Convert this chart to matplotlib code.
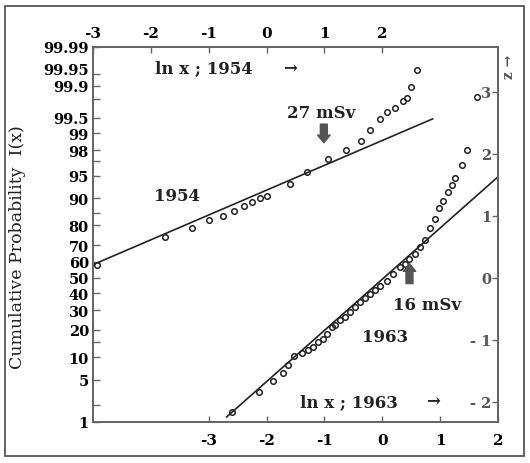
import matplotlib.pyplot as plt
from matplotlib.patches import Rectangle
from statistics import NormalDist

ppf = NormalDist().inv_cdf

# probability scale (left) and z scale (right)
prob_ticks = [1, 5, 10, 20, 30, 40, 50, 60, 70, 80, 90, 95, 98, 99, 99.5, 99.9, 99.95, 99.99]
prob_labels = ['1', '5', '10', '20', '30', '40', '50', '60', '70', '80', '90', '95',
               '98', '99', '99.5', '99.9', '99.95', '99.99']
prob_minor = [2, 15, 85, 97, 99.8]
z_ticks = [-2, -1, 0, 1, 2, 3]
z_labels = ['- 2', '- 1', '0', '1', '2', '3']
top_ticks = [-3, -2, -1, 0, 1, 2]
bottom_ticks = [-3, -2, -1, 0, 1, 2]

# 1954 data (top axis, ln x)
lnx_1954 = [-2.93, -1.76, -1.29, -1.00, -0.75, -0.56, -0.39, -0.25, -0.12, 0.0,
            0.40, 0.70, 1.06, 1.37, 1.63, 1.78, 1.96, 2.09, 2.22, 2.35, 2.42, 2.49, 2.60]
z_1954 = [0.21, 0.66, 0.80, 0.93, 1.00, 1.08, 1.16, 1.22, 1.29, 1.32,
          1.51, 1.71, 1.92, 2.06, 2.21, 2.38, 2.56, 2.67, 2.74, 2.85, 2.90, 3.08, 3.34]
fit_1954_x = [-3.0, 2.87]
fit_1954_z = [0.21, 2.56]

# 1963 data (bottom axis, ln x)
lnx_1963 = [-2.60, -2.13, -1.89, -1.72, -1.63, -1.53, -1.39, -1.29, -1.20, -1.11,
            -1.03, -0.96, -0.87, -0.82, -0.73, -0.65, -0.56, -0.47, -0.39, -0.30,
            -0.22, -0.13, -0.04, 0.08, 0.18, 0.30, 0.39, 0.47, 0.56, 0.65,
            0.73, 0.82, 0.91, 0.98, 1.05, 1.13, 1.20, 1.25, 1.37, 1.46, 1.63]
z_1963 = [-2.16, -1.84, -1.67, -1.53, -1.40, -1.27, -1.21, -1.16, -1.11, -1.04,
          -0.99, -0.91, -0.79, -0.76, -0.69, -0.63, -0.55, -0.47, -0.39, -0.33,
          -0.26, -0.20, -0.13, -0.05, 0.06, 0.17, 0.22, 0.30, 0.38, 0.49,
          0.61, 0.80, 0.95, 1.12, 1.24, 1.38, 1.49, 1.61, 1.82, 2.06, 2.92]
fit_1963_x = [-2.69, 2.0]
fit_1963_z = [-2.245, 1.626]

serif = 'DejaVu Serif'
ink = '#222222'
frame = '#666666'

fig = plt.figure(figsize=(5.3, 4.64), dpi=100)
ax = fig.add_axes([0.1755, 0.0884, 0.7641, 0.8082])
ax.set_xlim(-5, 2)
ax.set_ylim(ppf(0.01), ppf(0.9999))

ax2 = ax.twiny()
ax2.set_xlim(-3, 4)

# 1954 on the top scale
ax2.plot(fit_1954_x, fit_1954_z, color=ink, lw=1.2)
ax2.plot(lnx_1954, z_1954, 'o', mfc='none', mec=ink, ms=4, mew=1.1)

# 1963 on the bottom scale
ax.plot(fit_1963_x, fit_1963_z, color=ink, lw=1.2)
ax.plot(lnx_1963, z_1963, 'o', mfc='none', mec=ink, ms=4, mew=1.1)

# left probability ticks
ax.set_yticks([ppf(p / 100) for p in prob_ticks])
ax.set_yticklabels(prob_labels)
ax.set_yticks([ppf(p / 100) for p in prob_minor], minor=True)
ax.tick_params(axis='y', which='both', direction='in', length=5, width=1,
               color=frame, pad=3, labelsize=10.5, left=True, right=False)
ax.set_xticks(bottom_ticks)
ax.set_xticklabels([str(t) for t in bottom_ticks])
ax.tick_params(axis='x', direction='in', length=4, width=1, color=frame,
               pad=8, labelsize=11)
ax2.set_xticks(top_ticks)
ax2.set_xticklabels([str(t) for t in top_ticks])
ax2.tick_params(axis='x', direction='in', length=4, width=1, color=frame,
                pad=5, labelsize=11)

for lab in ax.get_yticklabels() + ax.get_xticklabels() + ax2.get_xticklabels():
    lab.set_fontfamily(serif)
    lab.set_fontweight('bold')
# the crowded 99.95 label sits a little higher, as in the original
for lab in ax.get_yticklabels():
    if lab.get_text() == '99.95':
        lab.set_va('baseline')

# right z axis, labels inside
sec = ax.secondary_yaxis('right')
sec.set_yticks(z_ticks)
sec.set_yticklabels(z_labels)
sec.tick_params(axis='y', direction='in', length=4, width=1, color=frame,
                pad=-5, labelsize=10.5, labelcolor='#555555')
for lab in sec.get_yticklabels():
    lab.set_ha('right')
    lab.set_fontfamily(serif)
    lab.set_fontweight('bold')

for a in (ax, ax2):
    for s in a.spines.values():
        s.set_color(frame)
        s.set_linewidth(1.4)
sec.spines['right'].set_color(frame)
sec.spines['right'].set_linewidth(1.4)

ax.set_ylabel('Cumulative Probability  I(x)', fontfamily=serif, fontsize=12.5,
              color=ink)
ax.yaxis.set_label_coords(-0.165, 0.47)

txt = dict(fontfamily=serif, fontweight='bold', color=ink)
ax2.text(-1.08, 3.38, 'ln x ; 1954', ha='center', va='center', fontsize=12, **txt)
ax2.text(0.40, 3.40, '→', ha='center', va='center', fontsize=12, **txt)
ax2.text(-1.55, 1.32, '1954', ha='center', va='center', fontsize=12, **txt)
ax2.text(0.95, 2.67, '27 mSv', ha='center', va='center', fontsize=12, **txt)
ax2.annotate('', xy=(0.99, 2.13), xytext=(0.99, 2.52),
             arrowprops=dict(arrowstyle='simple,head_width=0.9,head_length=0.55,tail_width=0.5',
                             fc='#555555', ec='#555555', mutation_scale=10))

ax.text(0.04, -0.955, '1963', ha='center', va='center', fontsize=12, **txt)
ax.text(0.77, -0.44, '16 mSv', ha='center', va='center', fontsize=12, **txt)
ax.text(-0.58, -2.0, 'ln x ; 1963', ha='center', va='center', fontsize=12, **txt)
ax.text(0.87, -1.98, '→', ha='center', va='center', fontsize=12, **txt)
ax.annotate('', xy=(0.47, 0.27), xytext=(0.47, -0.14),
            arrowprops=dict(arrowstyle='simple,head_width=0.9,head_length=0.55,tail_width=0.5',
                            fc='#555555', ec='#555555', mutation_scale=10))

fig.text(0.961, 0.855, 'z →', rotation=90, ha='center', va='center',
         fontfamily=serif, fontweight='bold', fontsize=10, color='#555555')

fig.patches.append(Rectangle((5 / 530, 1 - 457 / 464), 519 / 530, 450 / 464,
                             transform=fig.transFigure, fill=False,
                             ec='#555555', lw=1.3))

fig.savefig('out.png', dpi=100)
